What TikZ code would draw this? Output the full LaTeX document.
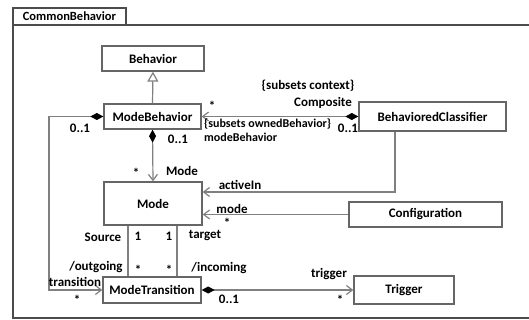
\documentclass[tikz,border=0pt]{standalone}
\usepackage{fontspec}
\setmainfont{Carlito}
\usetikzlibrary{arrows.meta}
\colorlet{colframe}{black!70}
\colorlet{colbox}{black!60}
\colorlet{collink}{black!50}
\tikzset{
  cls/.style={draw=colbox, fill=white, line width=1.3pt, inner sep=0,
    font=\bfseries\fontsize{13}{15}\selectfont},
  link/.style={collink, line width=1.2pt},
  nav/.style={-{Straight Barb[length=6pt, width=9pt]}},
  comp/.style={{Diamond[black, length=13pt, width=7pt]}-{Straight Barb[length=6pt, width=9pt]}},
  lbl/.style={inner sep=0, font=\bfseries\fontsize{13}{15}\selectfont},
  sub/.style={inner sep=0, font=\bfseries\fontsize{12}{14}\selectfont},
}

\begin{document}
\begin{tikzpicture}[x=1pt, y=-1pt]
  \useasboundingbox (0,0) rectangle (529,320);

  % ---- package frame
  \draw[colframe, line width=1.4pt] (13,25) rectangle (560,318);
  \node[draw=colframe, line width=1.2pt, fill=white, inner sep=0,
        minimum width=113pt, minimum height=17pt, font=\bfseries\fontsize{12.5}{14}\selectfont]
        (pkg) at (69.5,16.5) {CommonBehavior};

  % ---- classes
  \node[cls, minimum width=102pt, minimum height=25pt] (Beh)  at (153,58.5)   {Behavior};
  \node[cls, minimum width=97pt,  minimum height=25pt] (MB)   at (152.5,116.5) {ModeBehavior};
  \node[cls, minimum width=147pt, minimum height=29pt] (BC)   at (432.5,116.5) {BehavioredClassifier};
  \node[cls, minimum width=98pt,  minimum height=43pt] (Mode) at (153,203.5)  {Mode};
  \node[cls, minimum width=98pt,  minimum height=26pt] (MT)   at (152,290)    {ModeTransition};
  \node[cls, minimum width=153pt, minimum height=25pt] (Conf) at (425.5,214.5) {Configuration};
  \node[cls, minimum width=100pt, minimum height=28pt] (Trg)  at (404,290)    {Trigger};

  % ---- helper points
  \coordinate (bend) at (49,116.5);
  \coordinate (act)  at ([xshift=-37.5pt]BC.south);
  \coordinate (src)  at ([xshift=-25pt]Mode.south);
  \coordinate (tgt)  at ([xshift=24pt]Mode.south);

  % ---- connectors
  \draw[link, -{Triangle[open, length=10pt, width=11pt]}] (MB.north) -- (Beh.south);
  \draw[link, comp] (BC.west) -- (MB.east);
  \draw[link, comp] (MB.south) -- (Mode.north);
  \draw[link, comp] (MB.west) -- (bend) |- (MT.west);
  \draw[link, nav] (act) |- ([yshift=11.5pt]Mode.east);
  \draw[link, nav] (Conf.west) -- (Conf.west -| Mode.east);
  \draw[link] (src) -- (src |- MT.north);
  \draw[link] (tgt) -- (tgt |- MT.north);
  \draw[link, comp] (MT.east) -- (MT.east -| Trg.west);

  % ---- role names and multiplicities
  \node[lbl] (m1)  at (212,106) {*};
  \node[sub, anchor=west] (r1) at (204,124) {\{subsets ownedBehavior\}};
  \node[sub, anchor=west] (r2) at (204,137) {modeBehavior};
  \node[lbl] (r3)  at (308,86)  {\{subsets context\}};
  \node[lbl] (r4)  at (323,103) {Composite};
  \node[lbl] (m2)  at (348,128) {0..1};
  \node[lbl] (m3)  at (178,139) {0..1};
  \node[lbl] (m4)  at (136,173) {*};
  \node[lbl] (r5)  at (182,171) {Mode};
  \node[lbl] (m5)  at (80,128)  {0..1};
  \node[lbl] (r6)  at (75,282)  {transition};
  \node[lbl] (m6)  at (77,300)  {*};
  \node[lbl] (r7)  at (240,185) {activeIn};
  \node[lbl] (r8)  at (232,209) {mode};
  \node[lbl] (m7)  at (227,223) {*};
  \node[lbl] (r9)  at (103,237) {Source};
  \node[lbl] (m8)  at (138,236) {1};
  \node[lbl] (m9)  at (169,236) {1};
  \node[lbl] (r10) at (205,236) {target};
  \node[lbl] (r11) at (96,267)  {/outgoing};
  \node[lbl] (m10) at (138,270) {*};
  \node[lbl] (m11) at (169,270) {*};
  \node[lbl] (r12) at (219,268) {/incoming};
  \node[lbl] (m12) at (229,299) {0..1};
  \node[lbl] (r13) at (329,274) {trigger};
  \node[lbl] (m13) at (340,300) {*};
\end{tikzpicture}
\end{document}
